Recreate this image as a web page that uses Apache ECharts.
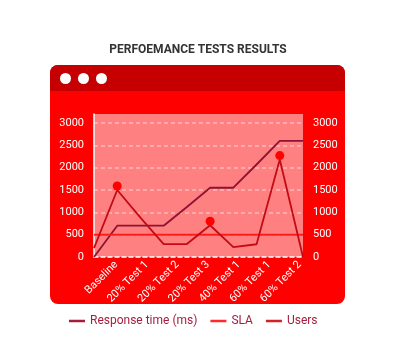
<!DOCTYPE html>
<html>
<head>
<meta charset="utf-8">
<script src="https://cdn.jsdelivr.net/npm/echarts@6/dist/echarts.min.js"></script>
<style>
  html, body { margin: 0; padding: 0; background: #ffffff; }
  #wrap { position: relative; width: 396px; height: 360px; overflow: hidden; }
  #card { position: absolute; left: 50px; top: 65px; width: 295px; height: 239px; background: #ff0000; border-radius: 8px; overflow: hidden; }
  #head { position: absolute; left: 0; top: 0; width: 100%; height: 26px; background: #c60000; }
  .dot { position: absolute; top: 8px; width: 11px; height: 11px; border-radius: 50%; background: #ffffff; }
  #chart { position: absolute; left: 0; top: 0; width: 396px; height: 360px; }
</style>
</head>
<body>
<div id="wrap">
  <div id="card">
    <div id="head">
      <div class="dot" style="left:10px"></div>
      <div class="dot" style="left:28px"></div>
      <div class="dot" style="left:46px"></div>
    </div>
  </div>
  <div id="chart"></div>
</div>
<script>
// category labels shown on the x axis
const categories = ['Baseline', '20% Test 1', '20% Test 2', '20% Test 3', '40% Test 1', '60% Test 1', '60% Test 2'];
// sample points along the run (10 samples)
const samples = ['s0', 's1', 's2', 's3', 's4', 's5', 's6', 's7', 's8', 's9'];
const responseTime = [0, 700, 700, 700, 1120, 1550, 1550, 2070, 2600, 2600];
const slaValues = [500, 500, 500, 500, 500, 500, 500, 500, 500, 500];
const users = [200, 1500, 880, 290, 290, 710, 220, 285, 2180, 0];
const userMarkers = [1, 5, 8];
const yTicks = { min: 0, max: 3200, interval: 500 };

const usersData = users.map((v, i) => userMarkers.includes(i)
  ? { value: v, symbol: 'circle', symbolSize: 9, itemStyle: { color: '#ff0000' } }
  : { value: v, symbol: 'none' });

const font = 'Roboto';
const plainNum = v => String(v);
const chart = echarts.init(document.getElementById('chart'), null, { renderer: 'canvas' });
chart.setOption({
  backgroundColor: 'transparent',
  animation: false,
  textStyle: { fontFamily: font },
  title: {
    text: 'PERFOEMANCE TESTS RESULTS',
    left: 'center',
    top: 39,
    textStyle: { fontFamily: font, fontSize: 12, fontWeight: 'bold', color: '#333333' }
  },
  legend: {
    top: 315,
    left: 69,
    padding: 0,
    icon: 'rect',
    itemWidth: 16,
    itemHeight: 2.5,
    itemGap: 13,
    textStyle: { fontFamily: font, fontSize: 12, color: '#a51d3c' },
    data: ['Response time (ms)', 'SLA', 'Users']
  },
  grid: [
    { left: 94, right: 93, top: 114, bottom: 103, show: true, backgroundColor: '#ff8080', borderWidth: 0 },
    { left: 101, right: 81, top: 114, bottom: 103, show: false }
  ],
  xAxis: [
    {
      type: 'category', gridIndex: 0, data: samples, boundaryGap: false,
      axisLine: { show: true, lineStyle: { color: '#ffffff', width: 1.5, type: [4, 3] } },
      axisTick: { show: false }, axisLabel: { show: false }, splitLine: { show: false }
    },
    {
      type: 'category', gridIndex: 1, data: categories, boundaryGap: true,
      axisLine: { show: false }, axisTick: { show: false }, splitLine: { show: false },
      axisLabel: { interval: 0, rotate: 45, color: '#ffffff', fontFamily: font, fontSize: 11, margin: 6 }
    }
  ],
  yAxis: [
    {
      type: 'value', gridIndex: 0, position: 'left',
      min: yTicks.min, max: yTicks.max, interval: yTicks.interval,
      axisLine: { show: true, lineStyle: { color: '#ffffff', width: 1.5 } },
      axisTick: { show: false },
      axisLabel: { color: '#ffffff', fontFamily: font, fontSize: 11, margin: 10, showMaxLabel: false, formatter: plainNum },
      splitLine: { show: true, showMaxLine: false, showMinLine: false, lineStyle: { color: 'rgba(255,255,255,0.45)', type: [4, 3], width: 1.5 } }
    },
    {
      type: 'value', gridIndex: 0, position: 'right',
      min: yTicks.min, max: yTicks.max, interval: yTicks.interval,
      axisLine: { show: false }, axisTick: { show: false },
      axisLabel: { color: '#ffffff', fontFamily: font, fontSize: 11, margin: 10, showMaxLabel: false, formatter: plainNum },
      splitLine: { show: false }
    },
    { type: 'value', gridIndex: 1, show: false }
  ],
  series: [
    {
      name: 'Response time (ms)', type: 'line', xAxisIndex: 0, yAxisIndex: 0,
      data: responseTime, symbol: 'none',
      itemStyle: { color: '#a51d3c' },
      lineStyle: { color: '#8e1236', width: 1.8 }
    },
    {
      name: 'SLA', type: 'line', xAxisIndex: 0, yAxisIndex: 0,
      data: slaValues, symbol: 'none',
      itemStyle: { color: '#ff2a2a' },
      lineStyle: { color: '#ff1a1a', width: 2 }
    },
    {
      name: 'Users', type: 'line', xAxisIndex: 0, yAxisIndex: 0,
      data: usersData, symbol: 'none', symbolOffset: [0, -4],
      itemStyle: { color: '#d42028' },
      lineStyle: { color: '#c40a14', width: 1.8 }
    }
  ]
});
</script>
</body>
</html>
